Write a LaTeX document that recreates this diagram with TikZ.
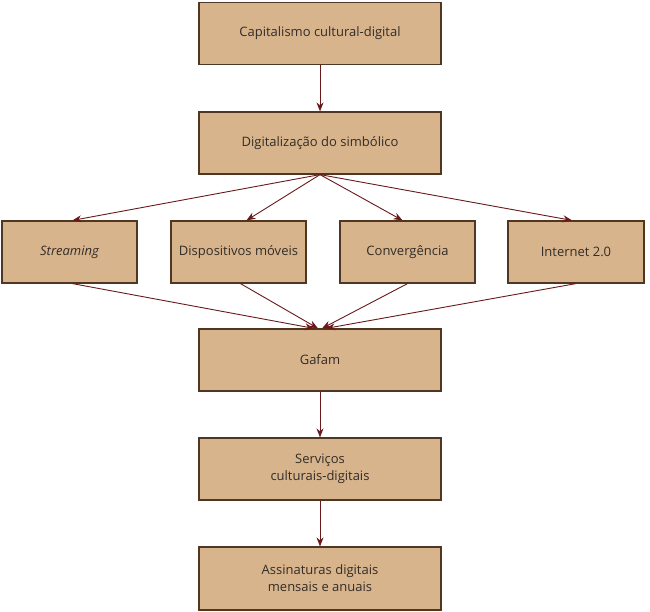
\documentclass[tikz,border=0pt]{standalone}
\usepackage{fontspec}
\setmainfont{Open Sans}
\usetikzlibrary{arrows.meta}
\definecolor{boxfill}{RGB}{216,180,140}
\definecolor{boxline}{RGB}{80,55,35}
\definecolor{arrowc}{RGB}{105,25,25}
\definecolor{txt}{RGB}{50,45,40}
\begin{document}
\begin{tikzpicture}[x=1pt,y=-1pt,
  box/.style={draw=boxline,fill=boxfill,line width=1.2pt,rectangle,
    minimum width=242pt,minimum height=62pt,inner sep=0pt,align=center,
    font=\fontsize{13}{17}\selectfont,text=txt},
  sbox/.style={box,minimum width=135pt},
  conn/.style={draw=arrowc,line width=0.9pt,-{Stealth[length=9pt,width=7pt]}}]
\useasboundingbox (0,0) rectangle (650,611);
\node[box] (cap) at (320,33.5) {Capitalismo cultural-digital};
\node[box] (dig) at (320,143) {Digitalização do simbólico};
\node[sbox] (str) at (69.5,252) {\itshape Streaming};
\node[sbox] (dis) at (238.5,252) {Dispositivos móveis};
\node[sbox] (con) at (407.5,252) {Convergência};
\node[sbox,minimum width=136pt] (int) at (576,252) {Internet 2.0};
\node[box] (gaf) at (320,360) {Gafam};
\node[box] (ser) at (320,469) {Serviços\\culturais-digitais};
\node[box,minimum height=63pt] (ass) at (320,578.5) {Assinaturas digitais\\mensais e anuais};
\draw[conn] (cap) -- (dig);
\draw[conn] (dig.south) -- ([xshift=3pt]str.north);
\draw[conn] (dig.south) -- ([xshift=8pt]dis.north);
\draw[conn] (dig.south) -- ([xshift=-5pt]con.north);
\draw[conn] (dig.south) -- ([xshift=-4pt]int.north);
\draw[conn] ([xshift=3pt]str.south) -- ([xshift=-6pt]gaf.north);
\draw[conn] ([xshift=2pt]dis.south) -- ([xshift=-2pt]gaf.north);
\draw[conn] (con.south) -- ([xshift=2pt]gaf.north);
\draw[conn] (int.south) -- ([xshift=6pt]gaf.north);
\draw[conn] (gaf) -- (ser);
\draw[conn] (ser) -- (ass);
\end{tikzpicture}
\end{document}
